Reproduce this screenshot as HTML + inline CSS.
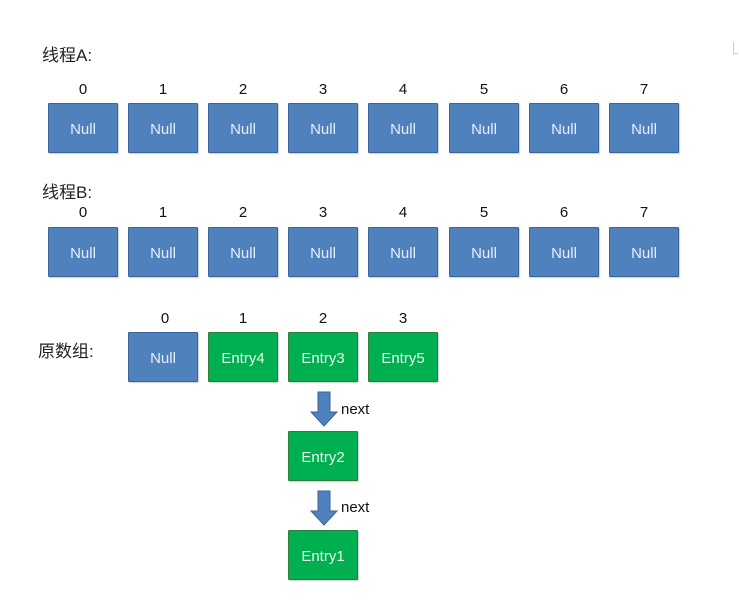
<!DOCTYPE html>
<html><head><meta charset="utf-8"><style>
body{margin:0;width:739px;height:607px;background:#fff;position:relative;overflow:hidden;font-family:"Liberation Sans","Noto Sans CJK SC",sans-serif;}
.b{position:absolute;width:68px;height:48px;border:1px solid #3a6596;background:#4f81bd;color:#e8eef8;font-size:15px;line-height:51px;text-align:center;box-sizing:content-box;border-radius:1px;box-shadow:1px 1px 1px rgba(0,0,0,.2)}
.g{background:#00b050;border-color:#2f7d3c;color:#e8f8ec}
.n{position:absolute;width:70px;text-align:center;font-size:15px;color:#111}
.l{position:absolute;font-size:17px;color:#222}
.t{position:absolute;font-size:15px;color:#111}
</style></head><body>
<div class="l" style="left:42px;top:41px">线程A:</div>
<div class="l" style="left:42px;top:178px">线程B:</div>
<div class="l" style="left:38px;top:337px">原数组:</div>

<div class="n" style="left:48px;top:81px">0</div><div class="b" style="left:48px;top:103px">Null</div>
<div class="n" style="left:128px;top:81px">1</div><div class="b" style="left:128px;top:103px">Null</div>
<div class="n" style="left:208px;top:81px">2</div><div class="b" style="left:208px;top:103px">Null</div>
<div class="n" style="left:288px;top:81px">3</div><div class="b" style="left:288px;top:103px">Null</div>
<div class="n" style="left:368px;top:81px">4</div><div class="b" style="left:368px;top:103px">Null</div>
<div class="n" style="left:449px;top:81px">5</div><div class="b" style="left:449px;top:103px">Null</div>
<div class="n" style="left:529px;top:81px">6</div><div class="b" style="left:529px;top:103px">Null</div>
<div class="n" style="left:609px;top:81px">7</div><div class="b" style="left:609px;top:103px">Null</div>

<div class="n" style="left:48px;top:204px">0</div><div class="b" style="left:48px;top:227px">Null</div>
<div class="n" style="left:128px;top:204px">1</div><div class="b" style="left:128px;top:227px">Null</div>
<div class="n" style="left:208px;top:204px">2</div><div class="b" style="left:208px;top:227px">Null</div>
<div class="n" style="left:288px;top:204px">3</div><div class="b" style="left:288px;top:227px">Null</div>
<div class="n" style="left:368px;top:204px">4</div><div class="b" style="left:368px;top:227px">Null</div>
<div class="n" style="left:449px;top:204px">5</div><div class="b" style="left:449px;top:227px">Null</div>
<div class="n" style="left:529px;top:204px">6</div><div class="b" style="left:529px;top:227px">Null</div>
<div class="n" style="left:609px;top:204px">7</div><div class="b" style="left:609px;top:227px">Null</div>

<div class="n" style="left:130px;top:310px">0</div><div class="b" style="left:128px;top:332px">Null</div>
<div class="n" style="left:208px;top:310px">1</div><div class="b g" style="left:208px;top:332px">Entry4</div>
<div class="n" style="left:288px;top:310px">2</div><div class="b g" style="left:288px;top:332px">Entry3</div>
<div class="n" style="left:368px;top:310px">3</div><div class="b g" style="left:368px;top:332px">Entry5</div>

<div class="b g" style="left:288px;top:431px">Entry2</div>
<div class="b g" style="left:288px;top:530px">Entry1</div>

<svg style="position:absolute;left:0;top:0" width="739" height="607">
<polygon points="318,392 330,392 330,412 337,412 324,426 311,412 318,412" fill="#4f81bd" stroke="#3a6596" stroke-width="1"/>
<polygon points="318,491 330,491 330,511 337,511 324,525 311,511 318,511" fill="#4f81bd" stroke="#3a6596" stroke-width="1"/>
<rect x="733" y="42" width="1" height="12" fill="#ccc"/>
<rect x="733" y="53" width="5" height="1" fill="#ccc"/>
</svg>
<div class="t" style="left:341px;top:401px">next</div>
<div class="t" style="left:341px;top:499px">next</div>
</body></html>
